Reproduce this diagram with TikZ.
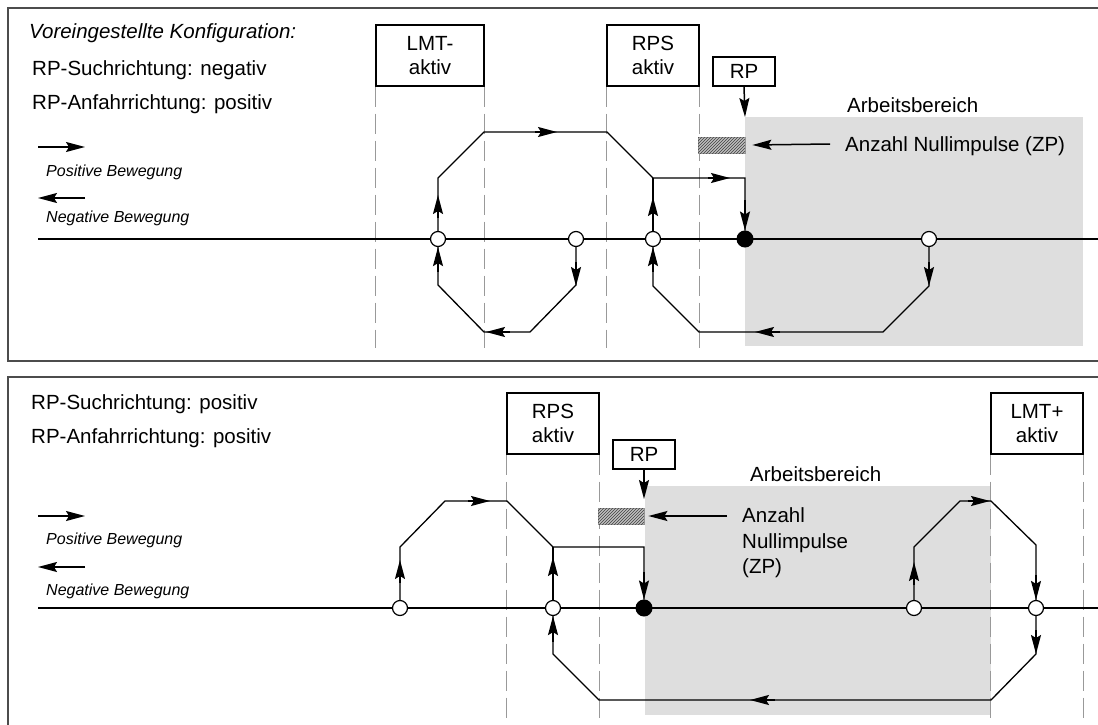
\documentclass[tikz,border=0pt]{standalone}
\usepackage{fontspec}
\setmainfont{Liberation Sans}
\usetikzlibrary{arrows.meta,patterns}
\begin{document}
\begin{tikzpicture}[x=1pt,y=-1pt,
  line/.style={line width=1.3pt, line join=miter},
  arr/.style={line width=1.5pt, -{Stealth[length=19pt,width=10pt,inset=3pt]}},
  panel/.style={draw=black!70, line width=1.6pt},
  sep/.style={draw=black!40, line width=1.3pt, dash pattern=on 20pt off 7pt},
  area/.style={fill=black!13},
  lbl/.style={font=\fontsize{20.5}{24.5}\selectfont, inner sep=0pt},
  small/.style={font=\fontsize{16}{19}\selectfont\itshape, inner sep=0pt},
  boxn/.style={draw, line width=1.2pt, font=\fontsize{20.5}{24}\selectfont, align=center, inner sep=0pt},
  opencirc/.style={circle, draw, fill=white, line width=1.2pt, minimum size=15pt, inner sep=0pt},
  fullcirc/.style={circle, draw, fill=black, line width=1pt, minimum size=16pt, inner sep=0pt},
  hatch/.style={fill=black!25, postaction={pattern=north east lines, pattern color=black!75}, draw=black!40, line width=0.8pt, inner sep=0pt},
]
\useasboundingbox (0,0) rectangle (1098,725);
\clip (0,0) rectangle (1098,725);

% ================= TOP PANEL =================
\draw[panel] (8,8) rectangle (1110,361);
\fill[area] (745,117) rectangle (1083,346);

\node[lbl, anchor=base west] (cfg) at (29,39) {\itshape Voreingestellte Konfiguration:};
\node[lbl, anchor=base west] (such1) at (32,76) {RP-Suchrichtung: negativ};
\node[lbl, anchor=base west] (anf1) at (32,109) {RP-Anfahrrichtung: positiv};
\draw[arr] (38,147) -- (85,147);
\node[small, anchor=base west] (pos1) at (46,176) {Positive Bewegung};
\draw[arr] (85,198) -- (38,198);
\node[small, anchor=base west] (neg1) at (46,222) {Negative Bewegung};

\node[boxn, minimum width=108pt, minimum height=61pt] (lmtm) at (430,55.5) {LMT-\\aktiv};
\node[boxn, minimum width=92pt, minimum height=61pt] (rps1) at (653,55.5) {RPS\\aktiv};
\node[boxn, minimum width=62pt, minimum height=29pt] (rp1) at (744,71.5) {RP};

\draw[sep] (lmtm.south west) -- ++(0,261);
\draw[sep] (lmtm.south east) -- ++(0,261);
\draw[sep] (rps1.south west) -- ++(0,261);
\draw[sep] (rps1.south east) -- ++(0,261);

\node[lbl, anchor=base west] (ab1) at (847,112) {Arbeitsbereich};
\node[hatch, minimum width=47pt, minimum height=16pt] (zp1) at (721.5,145) {};
\node[lbl, anchor=base west] (anz1) at (845,151) {Anzahl Nullimpulse (ZP)};
\draw[arr] (830,144) -- ([xshift=7pt]zp1.east);
\draw[arr] (rp1.south) -- (745,117);

\draw[line] (38,239) -- (1100,239);
\node[opencirc] (a1) at (438,239) {};
\node[opencirc] (a2) at (576,239) {};
\node[opencirc] (a3) at (653,239) {};
\node[fullcirc] (arp) at (745,239) {};
\node[opencirc] (a4) at (929,239) {};

\draw[line] (a1.north) -- (438,178) -- (484,132) -- (607,132) -- (653,178) -- (745,178) -- (arp.north);
\draw[arr] (438,218) -- (438,195);
\draw[arr] (535,132) -- (557,132);
\draw[arr] (708,178) -- (730,178);
\draw[arr] (745,200) -- (arp.north);
\draw[line] (a3.north) -- (653,178);
\draw[arr] (653,220) -- (653,197);
\draw[line] (a2.south) -- (576,285) -- (530,332) -- (484,332) -- (438,285) -- (a1.south);
\draw[arr] (576,262) -- (576,286);
\draw[arr] (510,332) -- (486,332);
\draw[arr] (438,272) -- (a1.south);
\draw[line] (a4.south) -- (929,286) -- (883,332) -- (699,332) -- (653,286) -- (a3.south);
\draw[arr] (929,262) -- (929,286);
\draw[arr] (780,332) -- (755,332);
\draw[arr] (653,272) -- (a3.south);

% ================= BOTTOM PANEL =================
\draw[panel] (8,377) rectangle (1110,745);
\fill[area] (645,486) rectangle (991,715);

\node[lbl, anchor=base west] (such2) at (31,409) {RP-Suchrichtung: positiv};
\node[lbl, anchor=base west] (anf2) at (31,443) {RP-Anfahrrichtung: positiv};
\draw[arr] (38,516) -- (85,516);
\node[small, anchor=base west] (pos2) at (46,544) {Positive Bewegung};
\draw[arr] (85,567) -- (38,567);
\node[small, anchor=base west] (neg2) at (46,595) {Negative Bewegung};

\node[boxn, minimum width=92pt, minimum height=61pt] (rps2) at (553,423.5) {RPS\\aktiv};
\node[boxn, minimum width=62pt, minimum height=29pt] (rp2) at (644,454.5) {RP};
\node[boxn, minimum width=92pt, minimum height=61pt] (lmtp) at (1037,423.5) {LMT+\\aktiv};

\draw[sep] (rps2.south west) -- ++(0,266);
\draw[sep] (rps2.south east) -- ++(0,266);
\draw[sep] (lmtp.south west) -- ++(0,266);
\draw[sep] (lmtp.south east) -- ++(0,266);

\node[lbl, anchor=base west] (ab2) at (750,481) {Arbeitsbereich};
\node[hatch, minimum width=46pt, minimum height=16pt] (zp2) at (621,516) {};
\node[lbl, anchor=base west] (anz2) at (742,522) {Anzahl};
\node[lbl, anchor=base west] (anz2b) at (742,548) {Nullimpulse};
\node[lbl, anchor=base west] (anz2c) at (742,573) {(ZP)};
\draw[arr] (727,516) -- ([xshift=4pt]zp2.east);
\draw[arr] (rp2.south) -- (644,499);

\draw[line] (38,608) -- (1100,608);
\node[opencirc] (b1) at (400,608) {};
\node[opencirc] (b2) at (553,608) {};
\node[fullcirc] (brp) at (644,608) {};
\node[opencirc] (b3) at (914,608) {};
\node[opencirc] (b4) at (1036,608) {};

\draw[line] (b1.north) -- (400,547) -- (445,501) -- (507,501) -- (553,547) -- (644,547) -- (brp.north);
\draw[arr] (400,583) -- (400,560);
\draw[arr] (468,501) -- (490,501);
\draw[arr] (644,572) -- (brp.north);
\draw[line] (b2.north) -- (553,547);
\draw[arr] (553,581) -- (553,557);
\draw[line] (b4.south) -- (1036,654) -- (991,700) -- (599,700) -- (553,654) -- (b2.south);
\draw[arr] (1036,630) -- (1036,654);
\draw[arr] (775,700) -- (750,700);
\draw[arr] (553,642) -- (b2.south);
\draw[line] (b3.north) -- (914,547) -- (960,501) -- (991,501) -- (1036,545) -- (b4.north);
\draw[arr] (914,585) -- (914,562);
\draw[arr] (968,501) -- (990,501);
\draw[arr] (1036,575) -- (b4.north);
\end{tikzpicture}
\end{document}
